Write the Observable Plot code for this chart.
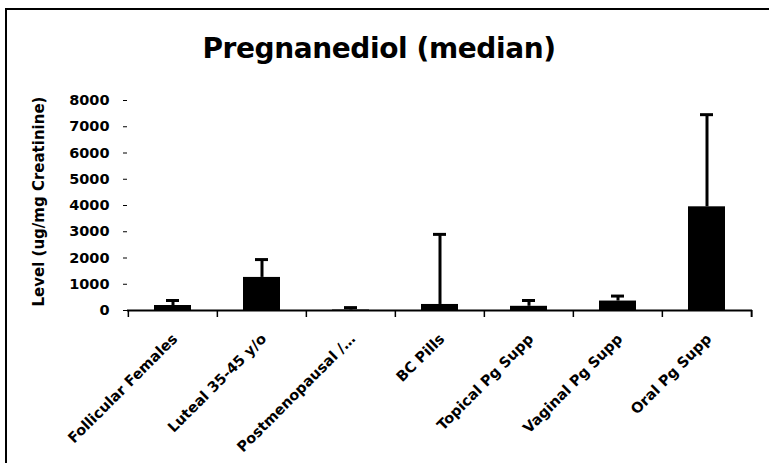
<!DOCTYPE html>
<html>
<head>
<meta charset="utf-8">
<script src="https://cdn.jsdelivr.net/npm/d3@7"></script>
<script src="https://cdn.jsdelivr.net/npm/@observablehq/plot@0.6"></script>
<style>
  html, body { margin: 0; padding: 0; background: #fff; }
  #wrap { position: relative; width: 769px; height: 463px; overflow: hidden; font-family: "DejaVu Sans", sans-serif; }
  #frame { position: absolute; left: 5px; top: 8px; width: 770px; height: 470px; border: 2px solid #000; box-sizing: border-box; pointer-events: none; }
  #title { position: absolute; left: 0; width: 758px; top: 32px; text-align: center; font-size: 28px; line-height: 34px; font-weight: bold; color: #000; letter-spacing: -0.4px; }
  #chart { position: absolute; left: 0; top: 0; }
</style>
</head>
<body>
<div id="wrap">
  <div id="chart"></div>
  <div id="title">Pregnanediol (median)</div>
  <div id="frame"></div>
</div>
<script>
const categories = ["Follicular Females", "Luteal 35-45 y/o", "Postmenopausal /…", "BC Pills", "Topical Pg Supp", "Vaginal Pg Supp", "Oral Pg Supp"];
const medians = [190, 1260, 20, 230, 160, 360, 3950];
const upperErrors = [380, 1940, 110, 2900, 380, 550, 7460];
const yTicks = [0, 1000, 2000, 3000, 4000, 5000, 6000, 7000, 8000];
const yLabel = "Level (ug/mg Creatinine)";

const data = categories.map((c, i) => ({cat: c, value: medians[i], upper: upperErrors[i]}));

const W = 769, H = 463, mL = 127, mR = 17, mT = 100, mB = 153;
const step = (W - mL - mR) / categories.length;

const plot = Plot.plot({
  width: W, height: H,
  marginLeft: mL, marginRight: mR, marginTop: mT, marginBottom: mB,
  style: {fontFamily: "'DejaVu Sans', sans-serif", fontSize: "14px", fontWeight: "bold", color: "#000", background: "transparent"},
  x: {domain: categories, paddingInner: 0.58, paddingOuter: 0.29, label: null},
  y: {domain: [0, 8000], label: null},
  marks: [
    Plot.barY(data, {x: "cat", y: "value", fill: "#000"}),
    Plot.ruleX(data, {x: "cat", y1: "value", y2: "upper", stroke: "#000", strokeWidth: 3}),
    Plot.tickY(data, {x: "cat", y: "upper", stroke: "#000", strokeWidth: 3, insetLeft: 12, insetRight: 12}),
    Plot.ruleY([0], {stroke: "#000", strokeWidth: 2}),
    Plot.ruleX(categories, {x: d => d, y1: 0, y2: 0, dx: -step / 2, insetBottom: -7, stroke: "#000", strokeWidth: 1.5}),
    Plot.ruleX([categories[categories.length - 1]], {x: d => d, y1: 0, y2: 0, dx: step / 2, insetBottom: -7, stroke: "#000", strokeWidth: 2}),
    Plot.axisY({ticks: yTicks, tickSize: 4, tickPadding: 14, tickFormat: d => String(d), fontSize: 14.5, fontWeight: "bold", label: null}),
    Plot.axisX({tickSize: 0, tickPadding: 26, tickRotate: -45, dx: 2, fontSize: 14.5, fontWeight: "bold", label: null}),
    Plot.text([yLabel], {frameAnchor: "left", dx: -88, dy: -4, rotate: -90, fontSize: 15, fontWeight: "bold", textAnchor: "middle"})
  ]
});
document.getElementById("chart").appendChild(plot);
</script>
</body>
</html>
